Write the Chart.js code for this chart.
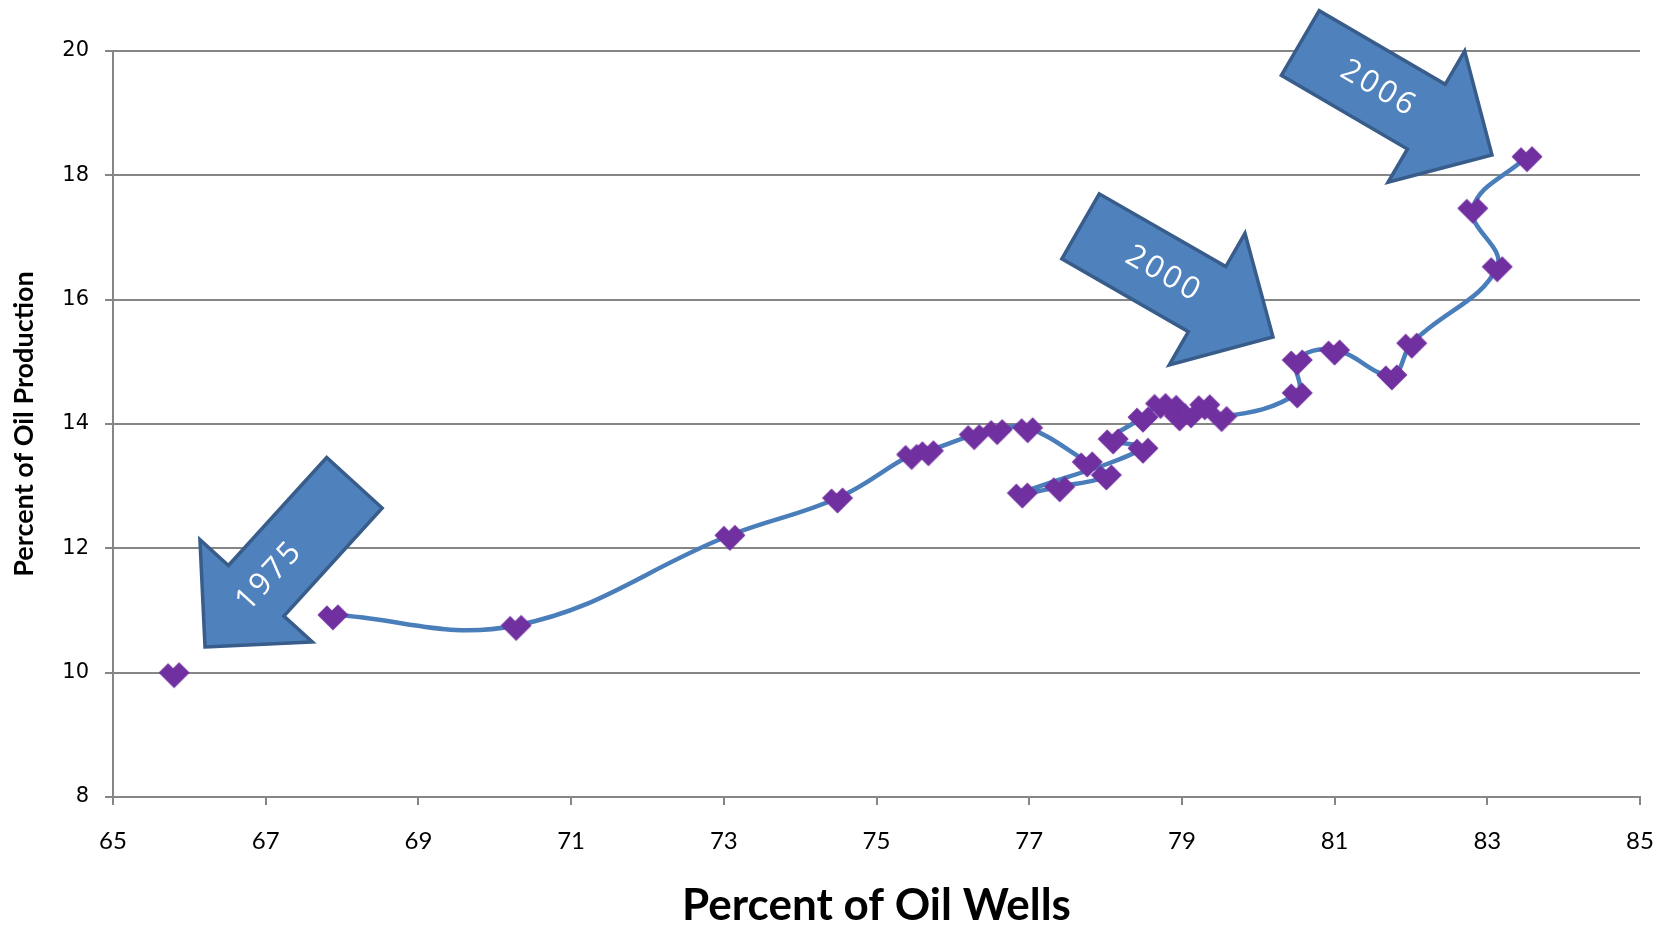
<!DOCTYPE html>
<html>
<head>
<meta charset="utf-8">
<script src="https://cdn.jsdelivr.net/npm/chart.js@4/dist/chart.umd.min.js"></script>
<style>
  html, body { margin: 0; padding: 0; background: #ffffff; }
  #wrap { width: 1669px; height: 926px; position: relative; }
</style>
</head>
<body>
<div id="wrap"><canvas id="chart" width="1669" height="926"></canvas></div>
<script>
// Share of stripper wells vs. share of oil production, one point per year (1976 has no data)
const years = [1975, 1976, 1977, 1978, 1979, 1980, 1981, 1982, 1983, 1984, 1985,
               1986, 1987, 1988, 1989, 1990, 1991, 1992, 1993, 1994, 1995, 1996,
               1997, 1998, 1999, 2000, 2001, 2002, 2003, 2004, 2005, 2006];
const wellsPct = [65.80, null, 67.88, 70.28, 73.08, 74.49, 75.46, 75.68, 76.28, 76.58, 76.98,
                  77.76, 78.01, 77.40, 76.91, 78.49, 78.10, 78.49, 78.72, 78.86, 78.97, 79.12,
                  79.30, 79.52, 80.51, 80.51, 81.00, 81.75, 82.01, 83.13, 82.81, 83.52];
const prodPct  = [10.00, null, 10.93, 10.76, 12.21, 12.81, 13.51, 13.57, 13.83, 13.91, 13.94,
                  13.39, 13.18, 12.99, 12.89, 13.61, 13.76, 14.11, 14.33, 14.30, 14.13, 14.18,
                  14.31, 14.12, 14.50, 15.03, 15.19, 14.79, 15.30, 16.53, 17.47, 18.30];

const xTickValues = [65, 67, 69, 71, 73, 75, 77, 79, 81, 83, 85];
const yTickValues = [8, 10, 12, 14, 16, 18, 20];

// Block-arrow callouts: tip position in data units, pointing direction in degrees
const calloutText  = ['1975', '2000', '2006'];
const calloutTipX  = [66.205, 80.193, 83.061];
const calloutTipY  = [10.413, 15.399, 18.327];
const calloutAngle = [132.3, 29.9, 30.3];
const calloutTextAt = [96, 126, 131];

const TITLE_FONT = "Lato, 'Noto Sans', sans-serif";
const GRID = '#868686';

// Purple diamond marker with a small notch on top
function makeMarker() {
  const c = document.createElement('canvas');
  c.width = 34; c.height = 34;
  const g = c.getContext('2d');
  g.translate(17, 17);
  g.fillStyle = '#7030A0';
  g.beginPath();
  g.moveTo(0, 15.5);
  g.lineTo(-15.5, 0);
  g.lineTo(-6, -9.5);
  g.lineTo(-1, -4.5);
  g.lineTo(5, -10.5);
  g.lineTo(15.5, 0);
  g.closePath();
  g.fill();
  return c;
}

const calloutPlugin = {
  id: 'callouts',
  afterDraw(chart) {
    const ctx = chart.ctx;
    const xs = chart.scales.x, ys = chart.scales.y;
    const L = 222, w = 75, hw = 152, hl = 76;
    calloutText.forEach((txt, i) => {
      const tx = xs.getPixelForValue(calloutTipX[i]);
      const ty = ys.getPixelForValue(calloutTipY[i]);
      const a = calloutAngle[i] * Math.PI / 180;
      ctx.save();
      ctx.translate(tx, ty);
      ctx.rotate(a);
      ctx.beginPath();
      ctx.moveTo(0, 0);
      ctx.lineTo(-hl, -hw / 2);
      ctx.lineTo(-hl, -w / 2);
      ctx.lineTo(-L, -w / 2);
      ctx.lineTo(-L, w / 2);
      ctx.lineTo(-hl, w / 2);
      ctx.lineTo(-hl, hw / 2);
      ctx.closePath();
      ctx.fillStyle = '#4F81BD';
      ctx.fill();
      ctx.lineJoin = 'miter';
      ctx.lineWidth = 3.5;
      ctx.strokeStyle = '#385D8A';
      ctx.stroke();
      ctx.translate(-calloutTextAt[i], 0);
      if (Math.abs(calloutAngle[i]) > 90) ctx.rotate(Math.PI);
      ctx.fillStyle = '#ffffff';
      ctx.font = "31px 'Open Sans', 'Noto Sans', sans-serif";
      try { ctx.letterSpacing = '3px'; } catch (e) {}
      ctx.textAlign = 'center';
      ctx.textBaseline = 'middle';
      ctx.fillText(txt, 0, 0);
      ctx.restore();
    });
  }
};

const points = years.map((yr, i) => ({ x: wellsPct[i], y: prodPct[i] }));

new Chart(document.getElementById('chart').getContext('2d'), {
  type: 'scatter',
  data: {
    datasets: [{
      data: points,
      showLine: true,
      spanGaps: false,
      tension: 0.4,
      borderColor: '#4A7EBB',
      borderWidth: 4.5,
      pointStyle: makeMarker(),
      pointRadius: 15,
      backgroundColor: '#7030A0'
    }]
  },
  options: {
    responsive: false,
    animation: false,
    events: [],
    layout: { padding: { top: 51, right: 29, left: 0, bottom: 0 } },
    plugins: { legend: { display: false }, tooltip: { enabled: false } },
    scales: {
      x: {
        type: 'linear',
        min: 65, max: 85,
        afterBuildTicks: s => { s.ticks = xTickValues.map(v => ({ value: v })); },
        afterFit: s => { s.height = 129; s.paddingLeft = 0; s.paddingRight = 0; },
        grid: { drawOnChartArea: false, drawTicks: true, tickLength: 8, color: GRID, lineWidth: 2 },
        border: { display: true, color: GRID, width: 2 },
        ticks: { font: { family: TITLE_FONT, size: 24 }, color: '#000000', padding: 22, maxRotation: 0 },
        title: {
          display: true, text: 'Percent of Oil Wells', color: '#000000',
          font: { family: TITLE_FONT, size: 44, weight: 'bold', lineHeight: 1 },
          padding: { top: 0, bottom: -2 }
        }
      },
      y: {
        type: 'linear',
        min: 8, max: 20,
        afterBuildTicks: s => { s.ticks = yTickValues.map(v => ({ value: v })); },
        afterFit: s => { s.width = 113; },
        grid: { drawOnChartArea: true, drawTicks: true, tickLength: 8, color: GRID, lineWidth: 2 },
        border: { display: true, color: GRID, width: 2 },
        ticks: { font: { family: "'DejaVu Sans', Verdana, sans-serif", size: 21 }, color: '#000000', padding: 16 },
        title: {
          display: true, text: 'Percent of Oil Production', color: '#000000',
          font: { family: TITLE_FONT, size: 27, weight: 'bold', lineHeight: 1 },
          padding: { top: 11, bottom: 0 }
        }
      }
    }
  },
  plugins: [calloutPlugin]
});
</script>
</body>
</html>
